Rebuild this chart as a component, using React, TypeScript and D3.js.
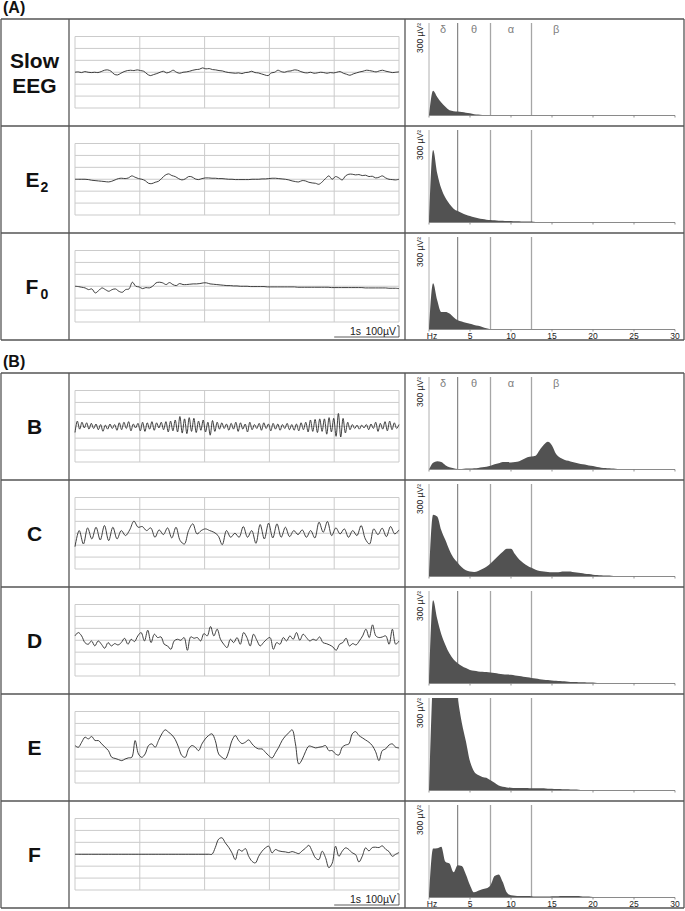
import * as d3 from 'd3';

const FONT = '"Liberation Sans", Arial, Helvetica, sans-serif';
const W = 685;
const H = 911;
const ROW_H = 107;
const TOP_A = 19;
const TOP_B = 373;
const X_LABEL_END = 69;
const X_SPEC_START = 405;
const BORDER = '#555';

// EEG traces in µV, evenly sampled over 5 s
const SECONDS = 5;
const UV_RANGE = 320;

const SLOW_EEG = [0,3,-3,6,0,-3,0,-3,6,18,21,9,-18,-24,-9,6,15,18,15,21,15,9,-15,-30,-21,-12,0,9,-6,3,18,0,-9,0,3,9,18,24,27,39,30,33,24,21,15,12,3,-3,-6,-9,-6,-12,-3,0,9,-3,-6,-15,-24,-30,-6,0,18,6,0,9,12,21,18,6,-3,-6,0,-9,-6,0,-3,-9,-3,-6,0,6,-9,-18,-27,-15,-6,3,9,18,15,9,3,12,18,9,3,-3,0,3];
const E2 = [0,0,0,0,-3,-9,-12,-15,-18,-21,-24,-18,-6,6,9,6,12,30,18,6,0,-12,-36,-39,-27,-18,9,36,48,33,24,6,-6,3,24,21,3,-3,6,12,12,9,9,6,6,3,0,0,-3,-3,-3,-3,-3,0,0,0,3,3,6,9,9,6,3,0,-6,-15,-21,-24,-12,-15,-27,-33,-36,-45,-24,6,30,0,24,12,-6,30,45,45,39,42,33,36,24,27,12,18,30,12,0,-3,-6,0];
const F0 = [0,-3,-9,-15,-30,-24,-60,-39,-15,-30,-45,-30,-24,-45,-54,-30,-24,36,0,-6,-21,-12,-15,0,30,36,30,15,33,15,6,24,15,15,18,21,21,24,30,30,21,18,15,12,9,6,6,3,3,0,0,0,-3,-3,-3,-3,-3,-6,-6,-6,-6,-6,-6,-6,-6,-6,-9,-9,-9,-9,-9,-9,-9,-9,-9,-9,-12,-12,-12,-12,-12,-12,-12,-12,-12,-12,-15,-15,-15,-15,-15,-15,-15,-18,-18,-18,-21];
const B = [
  -56,46,-26,36,-15,31,-26,26,-20,20,-31,15,-46,10,-26,20,-20,15,-36,31,-31,36,-20,41,-41,20,-15,26,
  -41,36,-46,31,-26,41,-36,31,-15,36,-31,41,-51,46,-41,56,-51,87,-61,66,-66,77,-46,71,-56,46,-36,56,
  -51,36,-80,51,-46,36,-26,31,-20,20,-36,26,-26,36,-46,31,-26,20,-51,36,-31,15,-20,26,-36,31,-20,20,
  -41,26,-26,20,-36,15,-20,26,-31,15,-36,20,-41,31,-31,36,-51,56,-46,61,-56,66,-46,66,-71,77,-51,71,
  -90,114,-96,70,-60,36,-31,15,-20,10,-26,10,-15,15,-31,20,-20,36,-46,26,-26,41,-41,46,-31,31,-20,15,
];
const C = [-120,24,-96,48,-51,54,-60,69,-66,54,-51,24,-21,30,108,54,60,24,48,-36,30,-12,48,-42,54,-66,-96,24,84,-6,24,39,24,9,-21,-102,24,-36,0,-36,60,-36,24,-90,78,-51,90,-42,84,-36,54,-30,24,-12,30,-36,24,-42,99,9,105,-21,48,-6,39,-36,24,-21,69,-51,-96,39,-12,45,-30,60,-6,30];
const D = [39,69,39,-21,-36,-6,-51,-6,-36,-72,-21,-51,-30,-42,-21,18,-36,9,-12,39,69,-6,90,-21,54,24,30,-36,-51,-81,-6,9,0,24,-90,30,18,24,-6,60,39,123,39,99,9,-36,-66,9,-21,24,-36,69,24,-51,54,0,-51,-21,9,24,-81,-21,-36,24,-6,39,9,69,0,54,24,-6,9,0,30,-21,-30,-42,-60,-90,-36,-21,18,-51,-30,-42,-6,39,99,24,138,39,24,30,39,-36,99,-36,-6];
const E = [15,0,45,90,75,96,60,60,30,0,-30,-90,-100,-110,-120,-105,-95,-90,60,-60,-90,-60,15,30,0,60,120,156,135,110,70,0,-75,-90,-15,15,0,-30,30,75,105,120,60,-60,-90,-105,-40,60,105,60,33,45,66,30,0,-15,-15,-45,-75,-96,-50,0,60,100,130,156,30,-150,-110,-40,10,5,-6,0,5,15,-30,-30,-60,-70,0,20,30,120,140,105,85,65,45,15,-40,-120,-30,-15,20,30,0,-6];
const F = [
  0,0,0,0,0,0,0,0,0,0,0,0,0,0,0,0,0,0,0,0,0,0,0,0,0,0,0,0,0,0,0,0,0,0,0,0,0,0,0,0,0,0,
  60,135,147,102,63,12,-48,42,27,51,-18,-63,-78,-18,27,57,72,12,42,30,24,21,15,24,15,6,30,54,80,27,
  -33,-48,27,-30,-120,-80,72,-18,27,57,42,12,-3,-69,-18,57,30,60,63,60,75,45,24,-18,0,15,
];

// power spectra in µV², 0.5 Hz bins starting at 0 Hz
const BIN_HZ = 0.5;
const SPEC_SLOW_EEG = [0,80,60,42,28,17,14,13,11,9,7,4,3,2,1,1,1,1,0];
const SPEC_E2 = [0,235,160,110,80,60,45,37,31,25,21,17,14,11,9,8,7,6,6,5,5,4,4,3,3,3,2,2,1,1,0];
const SPEC_F0 = [0,150,95,57,57,52,40,30,26,22,19,15,12,8,4,1,1,1,1,1,1,1,1,2,2,1,1,1,1,1,1,1,0];
const SPEC_B = [0,22,27,24,14,7,4,2,2,3,3,4,5,7,9,12,17,20,24,24,23,24,27,33,40,42,45,63,80,90,78,50,38,32,28,24,21,18,16,13,11,8,6,5,4,3,2,2,1,1,1,0];
const SPEC_C = [0,200,195,150,118,85,60,45,30,20,16,15,18,24,32,42,55,68,80,90,90,72,55,44,35,28,22,18,16,15,14,14,15,16,16,15,13,11,9,8,6,5,4,3,3,2,2,1,1,0];
const SPEC_D = [0,270,210,160,125,97,78,66,57,50,44,41,39,38,37,36,34,32,30,29,28,26,24,22,20,18,16,14,12,11,10,9,8,7,6,5,5,4,4,3,3,2,2,2,1,1,1,0];
const SPEC_E = [0,380,520,560,540,480,400,300,220,160,95,62,50,44,41,33,25,16,12,10,9,8,8,8,8,7,7,7,7,6,6,5,5,4,4,3,3,2,2,2,1,1,1,0];
const SPEC_F = [0,159,160,165,116,110,82,105,102,75,40,17,22,27,30,40,70,75,50,16,7,6,5,5,5,4,3,3,3,3,4,4,5,5,5,5,5,4,3,3,2,2,1,0];

const FREQ_MAX = 30;
const POWER_MAX = 300;
const FREQ_TICKS = [0, 5, 10, 15, 20, 25, 30];
const FREQ_TICK_LABELS = ['Hz', '5', '10', '15', '20', '25', '30'];
const BAND_EDGES = [3.5, 7.5, 12.5];
const BAND_LABELS = ['δ', 'θ', 'α', 'β'];
const BAND_LABEL_HZ = [1.7, 5.5, 10, 15.5];

type Label = { lines: string[]; sub?: string };
type Row = { label: Label; trace: number[]; spec: number[] };

const ROWS_A: Row[] = [
  { label: { lines: ['Slow', 'EEG'] }, trace: SLOW_EEG, spec: SPEC_SLOW_EEG },
  { label: { lines: ['E'], sub: '2' }, trace: E2, spec: SPEC_E2 },
  { label: { lines: ['F'], sub: '0' }, trace: F0, spec: SPEC_F0 },
];
const ROWS_B: Row[] = [
  { label: { lines: ['B'] }, trace: B, spec: SPEC_B },
  { label: { lines: ['C'] }, trace: C, spec: SPEC_C },
  { label: { lines: ['D'] }, trace: D, spec: SPEC_D },
  { label: { lines: ['E'] }, trace: E, spec: SPEC_E },
  { label: { lines: ['F'] }, trace: F, spec: SPEC_F },
];

function RowLabel({ top, label }: { top: number; label: Label }) {
  const cx = X_LABEL_END / 2;
  if (label.lines.length === 2) {
    return (
      <g fontFamily={FONT} fontWeight="bold" fontSize={21} fill="#111" textAnchor="middle">
        <text x={cx} y={top + 48.5}>{label.lines[0]}</text>
        <text x={cx} y={top + 73.5}>{label.lines[1]}</text>
      </g>
    );
  }
  if (label.sub) {
    return (
      <g fontFamily={FONT} fontWeight="bold" fill="#111">
        <text x={cx - 9} y={top + 61} fontSize={21}>{label.lines[0]}</text>
        <text x={cx + 6} y={top + 66} fontSize={14}>{label.sub}</text>
      </g>
    );
  }
  return (
    <text x={cx} y={top + 61} fontFamily={FONT} fontWeight="bold" fontSize={21} fill="#111" textAnchor="middle">
      {label.lines[0]}
    </text>
  );
}

function WavePanel({ top, data, scaleBar }: { top: number; data: number[]; scaleBar: boolean }) {
  const x = d3.scaleLinear().domain([0, SECONDS]).range([75, 399]);
  const y = d3.scaleLinear().domain([-UV_RANGE, UV_RANGE]).range([top + 89, top + 17.5]);
  const t = d3.scaleLinear().domain([0, data.length - 1]).range([0, SECONDS]);
  const line = d3
    .line<number>()
    .x((_, i) => x(t(i)))
    .y((d) => y(d))
    .curve(d3.curveCatmullRom.alpha(0.5));
  const hLines = d3.range(7).map((i) => -UV_RANGE + (i * 2 * UV_RANGE) / 6);
  const barY = top + 104;
  const barH = y(0) - y(100);

  return (
    <g>
      {hLines.map((v) => (
        <line key={'h' + v} x1={x(0)} x2={x(SECONDS)} y1={y(v)} y2={y(v)} stroke="#cbcbcb" strokeWidth={1} />
      ))}
      {x.ticks(5).map((s) => (
        <line key={'v' + s} x1={x(s)} x2={x(s)} y1={y(UV_RANGE)} y2={y(-UV_RANGE)} stroke="#cbcbcb" strokeWidth={1} />
      ))}
      <path d={line(data) ?? ''} fill="none" stroke="#2a2a2a" strokeWidth={0.9} strokeLinejoin="round" />
      {scaleBar && (
        <g>
          <path
            d={`M${x(4)},${barY}H${x(5)}V${barY - barH}h-2`}
            fill="none"
            stroke="#333"
            strokeWidth={0.8}
          />
          <text x={x(5) - 38} y={barY - 2} fontFamily={FONT} fontSize={10.5} fill="#222" textAnchor="end">
            1s
          </text>
          <text x={x(5) - 3} y={barY - 2} fontFamily={FONT} fontSize={10.5} fill="#222" textAnchor="end">
            100µV
          </text>
        </g>
      )}
    </g>
  );
}

function SpecPanel({
  top,
  data,
  bands,
  axis,
}: {
  top: number;
  data: number[];
  bands: boolean;
  axis: boolean;
}) {
  const x = d3.scaleLinear().domain([0, FREQ_MAX]).range([429, 675]);
  const y = d3.scaleLinear().domain([0, POWER_MAX]).range([top + 96.5, top + 4]);
  const area = d3
    .area<number>()
    .x((_, i) => x(i * BIN_HZ))
    .y0(y(0))
    .y1((d) => y(d))
    .curve(d3.curveMonotoneX);
  const clipId = `spec-clip-${top}`;

  return (
    <g>
      <clipPath id={clipId}>
        <rect x={x(0)} y={y(POWER_MAX)} width={x(FREQ_MAX) - x(0)} height={y(0) - y(POWER_MAX)} />
      </clipPath>
      <line x1={x(0)} x2={x(0)} y1={y(POWER_MAX)} y2={y(0)} stroke="#b0b0b0" strokeWidth={1} />
      {BAND_EDGES.map((f, i) => (
        <line
          key={f}
          x1={x(f)}
          x2={x(f)}
          y1={y(POWER_MAX)}
          y2={y(0)}
          stroke={i === 0 ? '#6e6e6e' : '#a6a6a6'}
          strokeWidth={i === 0 ? 1 : 1.3}
        />
      ))}
      <path d={area(data) ?? ''} fill="#525252" clipPath={`url(#${clipId})`} />
      <line x1={x(0)} x2={x(FREQ_MAX)} y1={y(0)} y2={y(0)} stroke="#8a8a8a" strokeWidth={1} />
      {FREQ_TICKS.map((f) => (
        <line key={f} x1={x(f)} x2={x(f)} y1={y(0)} y2={y(0) + 2} stroke="#777" strokeWidth={0.8} />
      ))}
      <text
        transform={`translate(${x(0) - 6},${y(POWER_MAX)}) rotate(-90)`}
        textAnchor="end"
        fontFamily={FONT}
        fontSize={8.5}
        fill="#222"
      >
        300 µV²
      </text>
      {bands &&
        BAND_LABELS.map((b, i) => (
          <text
            key={b}
            x={x(BAND_LABEL_HZ[i])}
            y={top + 14}
            textAnchor="middle"
            fontFamily={FONT}
            fontSize={11}
            fill="#808080"
          >
            {b}
          </text>
        ))}
      {axis &&
        FREQ_TICKS.map((f, i) => (
          <text
            key={'l' + f}
            x={x(f) + (i === 0 ? 3 : 0)}
            y={top + 105.5}
            textAnchor="middle"
            fontFamily={FONT}
            fontSize={8.5}
            fill="#222"
          >
            {FREQ_TICK_LABELS[i]}
          </text>
        ))}
    </g>
  );
}

function Section({ top, rows, title }: { top: number; rows: Row[]; title: string }) {
  const bottom = top + rows.length * ROW_H;
  return (
    <g>
      <text x={3} y={top - 6.5} fontFamily={FONT} fontWeight="bold" fontSize={16} fill="#111">
        {title}
      </text>
      {rows.map((r, i) => {
        const rt = top + i * ROW_H;
        const last = i === rows.length - 1;
        return (
          <g key={i}>
            <RowLabel top={rt} label={r.label} />
            <WavePanel top={rt} data={r.trace} scaleBar={last} />
            <SpecPanel top={rt} data={r.spec} bands={i === 0} axis={last} />
          </g>
        );
      })}
      {d3.range(rows.length + 1).map((i) => (
        <line
          key={'hb' + i}
          x1={1}
          x2={684}
          y1={top + i * ROW_H}
          y2={top + i * ROW_H}
          stroke={BORDER}
          strokeWidth={1.3}
        />
      ))}
      {[1, X_LABEL_END, X_SPEC_START, 684].map((xv) => (
        <line key={'vb' + xv} x1={xv} x2={xv} y1={top} y2={bottom} stroke={BORDER} strokeWidth={1.3} />
      ))}
    </g>
  );
}

export default function App() {
  return (
    <>
      <style>{'body{margin:0;background:#fff}'}</style>
      <svg width={W} height={H} viewBox={`0 0 ${W} ${H}`} style={{ display: 'block' }}>
        <rect width={W} height={H} fill="#fff" />
        <Section top={TOP_A} rows={ROWS_A} title="(A)" />
        <Section top={TOP_B} rows={ROWS_B} title="(B)" />
      </svg>
    </>
  );
}
